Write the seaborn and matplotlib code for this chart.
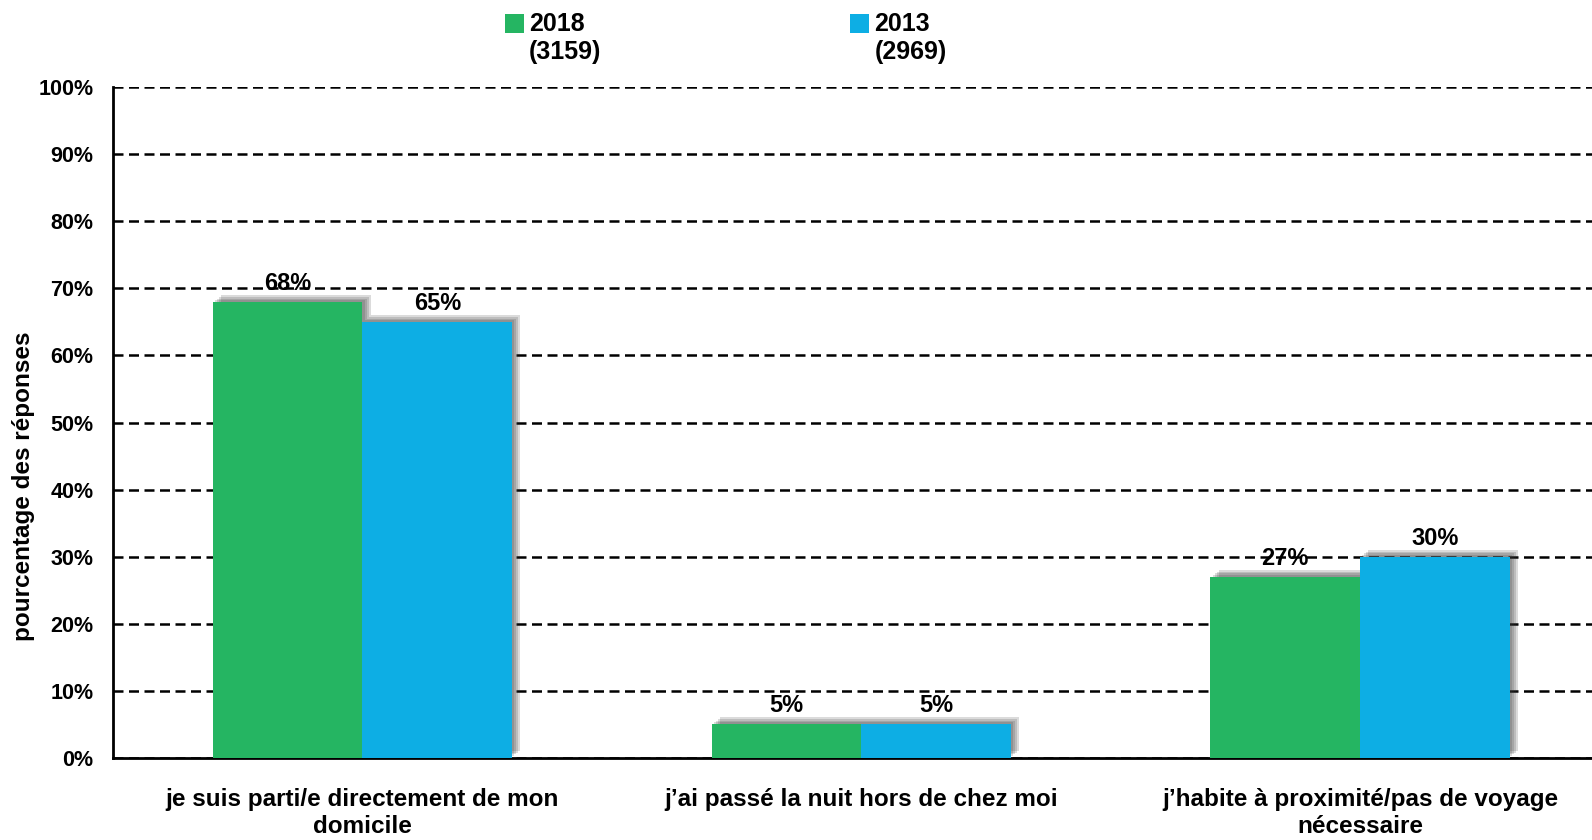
import numpy as np
import pandas as pd
import matplotlib as mpl
mpl.use("Agg")
import matplotlib.pyplot as plt
import matplotlib.patheffects as pe
from matplotlib.patches import Patch, Rectangle
from matplotlib.legend_handler import HandlerPatch
from matplotlib.ticker import FixedLocator, PercentFormatter
import seaborn as sns

# data
categories = ["je suis parti/e directement de mon\ndomicile",
              "j’ai passé la nuit hors de chez moi",
              "j’habite à proximité/pas de voyage\nnécessaire"]
years = ["2018", "2013"]
counts = ["(3159)", "(2969)"]
values_2018 = [68, 5, 27]
values_2013 = [65, 5, 30]
colors = ["#25B562", "#0DAEE4"]

df = pd.DataFrame({
    "categorie": categories * 2,
    "annee": [years[0]] * 3 + [years[1]] * 3,
    "pct": values_2018 + values_2013,
})

sns.set_style("white")
plt.rcParams["font.family"] = ["Liberation Sans", "DejaVu Sans"]
plt.rcParams["font.weight"] = "bold"
for key in ["text.color", "axes.labelcolor", "xtick.color", "ytick.color"]:
    plt.rcParams[key] = "black"

fig = plt.figure(figsize=(15.92, 8.4), dpi=100)
ax = fig.add_axes([0.071, 0.098, 0.94, 0.798])

sns.barplot(data=df, x="categorie", y="pct", hue="annee", order=categories,
            hue_order=years, palette=colors, width=0.6, saturation=1,
            edgecolor="none", ax=ax, zorder=3)
if ax.get_legend() is not None:
    ax.get_legend().remove()

# soft drop shadow (stacked offsets to fake a blur)
shadow = [pe.SimplePatchShadow(offset=(o, o * 0.8), shadow_rgbFace="#3a3a3a", alpha=0.18)
          for o in (1.5, 3, 4.5, 6)] + [pe.Normal()]
for patch in ax.patches:
    patch.set_path_effects(shadow)

for cont in ax.containers:
    ax.bar_label(cont, labels=[f"{v:.0f}%" for v in cont.datavalues], padding=5,
                 fontsize=17, fontweight="bold", zorder=5)

ax.set_ylim(0, 100)
ax.set_xlim(-0.5, 2.5)
ax.yaxis.set_major_locator(FixedLocator(np.arange(0, 101, 10)))
ax.yaxis.set_major_formatter(PercentFormatter(decimals=0))
ax.grid(axis="y", which="major", color="black", linestyle=(0, (4, 2.2)), linewidth=1.8, zorder=1)
ax.set_axisbelow(True)

ax.xaxis.set_minor_locator(FixedLocator([-0.5, 0.5, 1.5, 2.5]))
ax.tick_params(axis="x", which="major", length=0, pad=22, labelsize=17.5)
ax.tick_params(axis="x", which="minor", length=7, width=1.8, direction="out", color="black")
ax.tick_params(axis="y", which="major", length=6, width=1.8, direction="out", color="black",
               labelsize=15.5, pad=8)
for lab in ax.get_xticklabels() + ax.get_yticklabels():
    lab.set_fontweight("bold")

for side in ["top", "right"]:
    ax.spines[side].set_visible(False)
for side in ["left", "bottom"]:
    ax.spines[side].set_color("black")
    ax.spines[side].set_linewidth(2)

ax.set_xlabel("")
ax.set_ylabel("pourcentage des réponses", fontsize=17.5, fontweight="bold")
ax.yaxis.set_label_coords(-0.052, 0.405)


def first_line_square(legend, orig_handle, xdescent, ydescent, width, height, fontsize):
    # put the colour square next to the first line of the two-line label
    return Rectangle((-xdescent, -ydescent + fontsize * 0.62), width, height)


handles = [Patch(facecolor=c, edgecolor="none") for c in colors]
labels = [f"{y}\n{n}" for y, n in zip(years, counts)]
fig.legend(handles, labels, loc="upper left", bbox_to_anchor=(0.303, 1.012), ncol=2,
           frameon=False, handlelength=0.75, handleheight=0.75,
           handletextpad=0.22, columnspacing=9.95, labelspacing=0.1,
           prop={"weight": "bold", "size": 18},
           handler_map={Patch: HandlerPatch(patch_func=first_line_square)})

fig.savefig("out.png", dpi=100)
